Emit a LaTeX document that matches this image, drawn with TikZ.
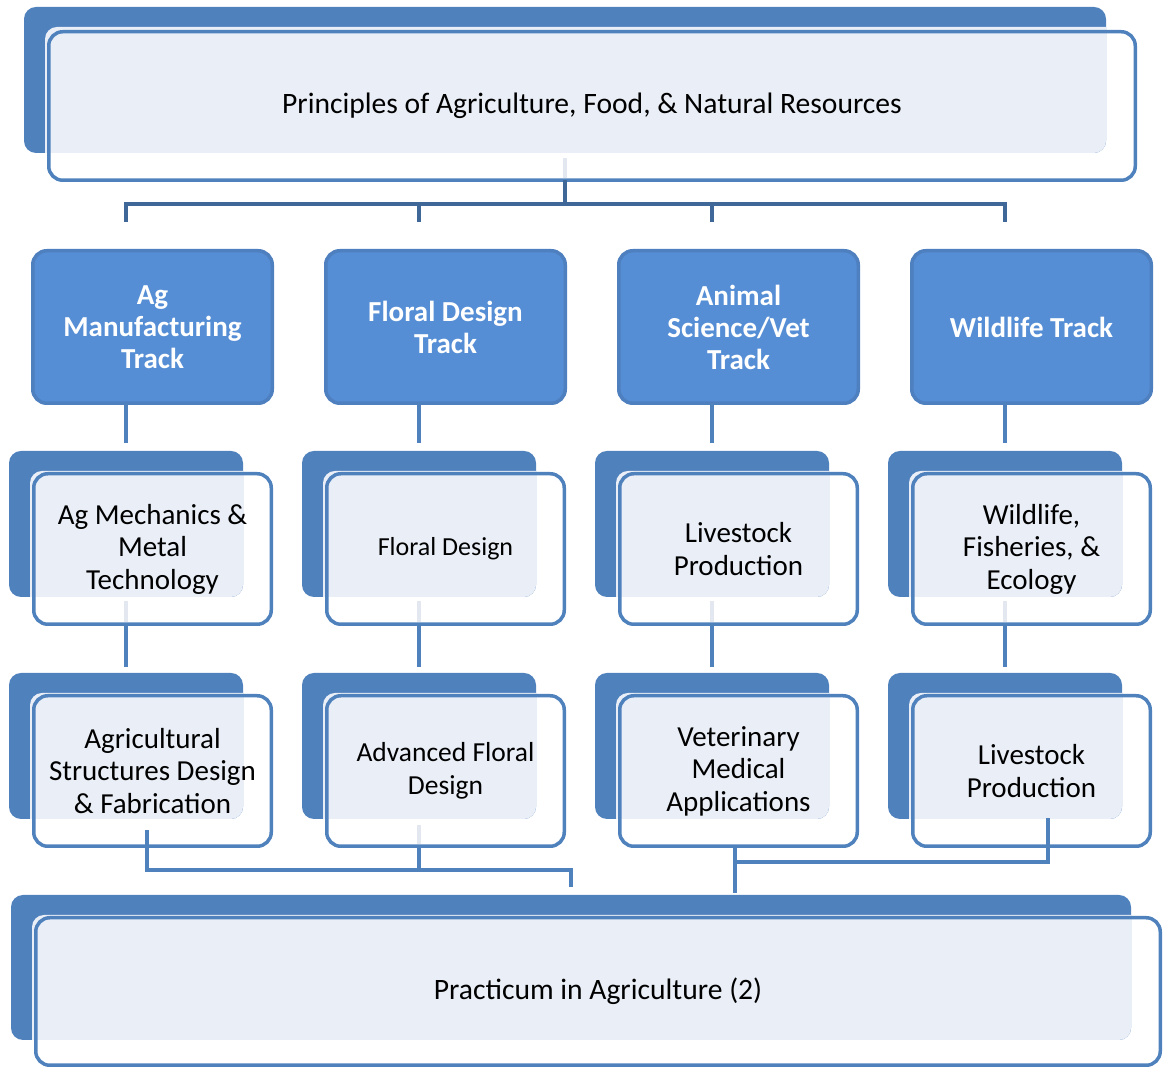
\documentclass[tikz,border=0pt]{standalone}
\usepackage{fontspec}
\setmainfont{Carlito}
\usepackage{xcolor}
\usetikzlibrary{calc}

\definecolor{cardblue}{HTML}{4F81BD}
\definecolor{cardlight}{HTML}{EAEFF7}
\definecolor{trackblue}{HTML}{558ED5}
\definecolor{trackedge}{HTML}{4E7FBF}
\definecolor{busblue}{HTML}{3F6898}
\definecolor{paleblue}{HTML}{E3E8F0}

\begin{document}
\begin{tikzpicture}[x=1pt,y=1pt,
  backcard/.style={fill=cardblue, rounded corners=12pt, inner sep=0pt, outer sep=0pt,
    path picture={\fill[cardlight, rounded corners=12pt]
      ($(path picture bounding box.north west)+(21,-20)$) rectangle
      ($(path picture bounding box.south east)+(20,-20)$);}},
  frontcard/.style={draw=cardblue, line width=3.5pt, rounded corners=14pt, inner sep=0pt,
    outer sep=0pt, align=center, font=\fontsize{29}{32.5}\selectfont},
  bigcard/.style={frontcard, font=\fontsize{29.6}{33}\selectfont},
  coursecard/.style={frontcard, minimum width=237.5pt, minimum height=150.5pt},
  courseback/.style={backcard, minimum width=234pt, minimum height=146pt},
  trackbox/.style={draw=trackedge, fill=trackblue, line width=3.5pt, rounded corners=14pt,
    inner sep=0pt, outer sep=0pt, minimum width=239.5pt, minimum height=152.5pt,
    text=white, align=center, font=\bfseries\fontsize{29}{32}\selectfont},
  link/.style={draw=cardblue, line width=4.5pt},
  buslink/.style={draw=busblue, line width=4.5pt},
  faintlink/.style={draw=paleblue, line width=4.5pt}]

\useasboundingbox (0,0) rectangle (1165,1068);

% Principles
\node[backcard, minimum width=1082pt, minimum height=146pt] (top-b) at (565,988) {};
\node[bigcard, minimum width=1086.5pt, minimum height=148.5pt] (top) at (592,962)
  {Principles of Agriculture, Food, \& Natural Resources};

% Tracks
\node[trackbox] (t1) at (152.5,741) {Ag\\Manufacturing\\Track};
\node[trackbox] (t2) at (445.5,741) {Floral Design\\Track};
\node[trackbox] (t3) at (738.5,741) {Animal\\Science/Vet\\Track};
\node[trackbox] (t4) at (1031.5,741) {Wildlife Track};

% First courses
\node[courseback] (c11b) at (126,544) {};
\node[courseback] (c12b) at (419,544) {};
\node[courseback] (c13b) at (712,544) {};
\node[courseback] (c14b) at (1005,544) {};
\node[coursecard] (c11) at (152.5,519) {Ag Mechanics \&\\Metal\\Technology};
\node[coursecard, font=\fontsize{26}{30}\selectfont] (c12) at (445.5,519) {Floral Design};
\node[coursecard] (c13) at (738.5,519) {Livestock\\Production};
\node[coursecard] (c14) at (1031.5,519) {Wildlife,\\Fisheries, \&\\Ecology};

% Second courses
\node[courseback] (c21b) at (126,322) {};
\node[courseback] (c22b) at (419,322) {};
\node[courseback] (c23b) at (712,322) {};
\node[courseback] (c24b) at (1005,322) {};
\node[coursecard] (c21) at (152.5,297) {Agricultural\\Structures Design\\\& Fabrication};
\node[coursecard, font=\fontsize{27.5}{32.5}\selectfont] (c22) at (445.5,297) {Advanced Floral\\Design};
\node[coursecard] (c23) at (738.5,297) {Veterinary\\Medical\\Applications};
\node[coursecard] (c24) at (1031.5,297) {Livestock\\Production};

% Practicum
\node[backcard, minimum width=1120pt, minimum height=145pt] (prac-b) at (571,100.5) {};
\node[bigcard, minimum width=1124.5pt, minimum height=147.5pt] (prac) at (598,76.5)
  {Practicum in Agriculture (2)};

% Top bus
\coordinate (bus) at (565,864);
\draw[faintlink] ($(top-b.south)+(0,-5)$) -- ($(top-b.south |- top.south)+(0,2)$);
\draw[buslink] (top-b.south |- top.south) -- (bus);
\draw[buslink] ($(c11b.north |- bus)+(0,-18)$) |- (bus) -| ($(c14b.north |- bus)+(0,-18)$);
\draw[buslink] (c12b.north |- bus) -- ($(c12b.north |- bus)+(0,-18)$);
\draw[buslink] (c13b.north |- bus) -- ($(c13b.north |- bus)+(0,-18)$);

% Tracks to first courses
\draw[link] (t1.south -| c11b.north) -- ($(c11b.north)+(0,8)$);
\draw[link] (t2.south -| c12b.north) -- ($(c12b.north)+(0,8)$);
\draw[link] (t3.south -| c13b.north) -- ($(c13b.north)+(0,8)$);
\draw[link] (t4.south -| c14b.north) -- ($(c14b.north)+(0,8)$);

% First to second courses
\draw[faintlink] ($(c11b.south)+(0,-4)$) -- ($(c11b.south |- c11.south)+(0,2)$);
\draw[faintlink] ($(c12b.south)+(0,-4)$) -- ($(c12b.south |- c12.south)+(0,2)$);
\draw[faintlink] ($(c13b.south)+(0,-4)$) -- ($(c13b.south |- c13.south)+(0,2)$);
\draw[faintlink] ($(c14b.south)+(0,-4)$) -- ($(c14b.south |- c14.south)+(0,2)$);
\draw[link] (c11b.south |- c11.south) -- ($(c21b.north)+(0,6)$);
\draw[link] (c12b.south |- c12.south) -- ($(c22b.north)+(0,6)$);
\draw[link] (c13b.south |- c13.south) -- ($(c23b.north)+(0,6)$);
\draw[link] (c14b.south |- c14.south) -- ($(c24b.north)+(0,6)$);

% Second courses to practicum
\coordinate (lbus) at (571,198);
\coordinate (rbus) at (735,206);
\draw[link] ($(c21.south)+(-5.5,16)$) |- (lbus) -- ($(prac-b.north)+(0,8)$);
\draw[faintlink] ($(c22b.south)+(0,-6)$) -- ($(c22b.south |- c22.south)+(0,2)$);
\draw[link] (c22b.south |- c22.south) -- (c22b.south |- lbus);
\draw[link] (c23.south -| rbus) -- ($(prac-b.north -| rbus)+(0,2)$);
\draw[link] ($(c24.south)+(16.5,28)$) |- (rbus);

\end{tikzpicture}
\end{document}
